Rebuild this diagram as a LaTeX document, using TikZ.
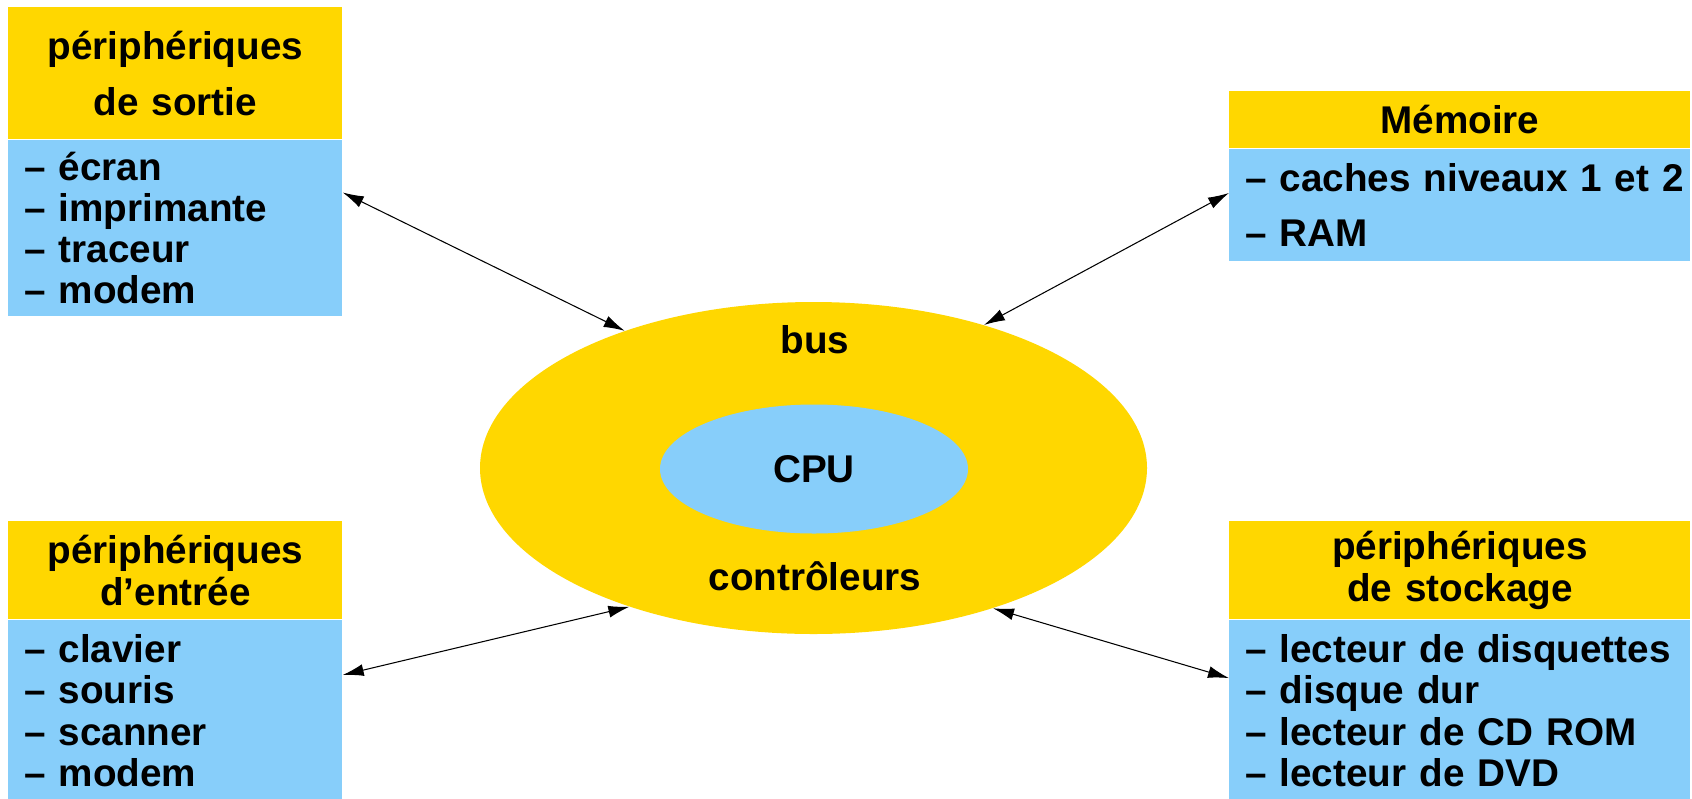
\documentclass[tikz,border=0pt]{standalone}
\usepackage{fontspec}
\setmainfont{Liberation Sans}
\usetikzlibrary{shapes.geometric,positioning,arrows.meta}
\definecolor{busyellow}{HTML}{FFD700}
\definecolor{cpublue}{HTML}{87CEFA}

\begin{document}
\begin{tikzpicture}
		[head/.style={fill=busyellow, rectangle, inner sep=0pt, align=center, anchor=north west},
		list/.style={fill=cpublue, rectangle, inner xsep=0.32cm, inner ysep=0pt, align=left},
		ring/.style={fill=busyellow, ellipse, inner sep=0pt, minimum width=13.34cm, minimum height=6.64cm},
		core/.style={fill=cpublue, ellipse, inner sep=0pt, minimum width=6.16cm, minimum height=2.58cm},
		link/.style={{Latex[length=0.42cm,width=0.24cm]}-{Latex[length=0.42cm,width=0.24cm]}, line width=0.6pt},
		every node/.style={font=\bfseries\fontsize{22}{23.5}\selectfont}]

			\useasboundingbox (0,0) rectangle (33.84,-15.96);

			\node[head, text width=6.68cm, minimum height=2.64cm, font=\bfseries\fontsize{22}{31.5}\selectfont](outhead) at (0.16,-0.14) {périphériques\\de sortie};
			\node[list, text width=6.04cm, minimum height=3.52cm, below=0cm of outhead](outlist) {– écran\\– imprimante\\– traceur\\– modem};

			\node[head, text width=9.22cm, minimum height=1.14cm](memhead) at (24.58,-1.82) {Mémoire};
			\node[list, text width=8.58cm, minimum height=2.24cm, below=0cm of memhead, font=\bfseries\fontsize{22}{31.5}\selectfont](memlist) {\mbox{– caches niveaux 1 et 2}\\– RAM};

			\node[head, text width=6.68cm, minimum height=1.96cm, font=\bfseries\fontsize{22}{24}\selectfont](inhead) at (0.16,-10.42) {périphériques\\d’entrée};
			\node[list, text width=6.04cm, minimum height=3.62cm, below=0cm of inhead](inlist) {– clavier\\– souris\\– scanner\\– modem};

			\node[head, text width=9.22cm, minimum height=1.96cm, font=\bfseries\fontsize{22}{24}\selectfont](storhead) at (24.58,-10.42) {périphériques\\de stockage};
			\node[list, text width=8.58cm, minimum height=3.62cm, below=0cm of storhead](storlist) {– lecteur de disquettes\\– disque dur\\– lecteur de CD ROM\\– lecteur de DVD};

			\node[ring](bus) at (16.27,-9.36) {};
			\node[core](cpu) at (16.28,-9.38) {CPU};
			\node(busname) at (16.3,-6.80) {bus};
			\node(ctrlname) at (16.3,-11.52) {contrôleurs};

			\path
			(outlist.12) edge[link] (bus.144)
			(memlist.177) edge[link] (bus.40.5)
			(inlist.12) edge[link] (bus.217)
			(storlist.172) edge[link] (bus.322);

	\end{tikzpicture}
\end{document}
